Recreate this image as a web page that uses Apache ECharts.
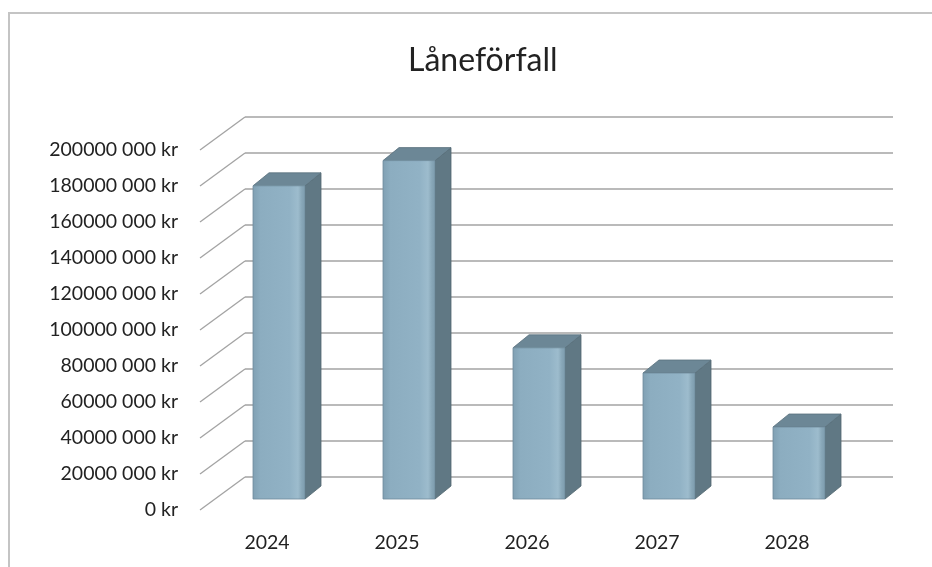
<!DOCTYPE html>
<html>
<head>
<meta charset="utf-8">
<script src="https://cdn.jsdelivr.net/npm/echarts@6/dist/echarts.min.js"></script>
<style>
html,body{margin:0;padding:0;background:#fff;}
#c{width:932px;height:567px;}
</style>
</head>
<body>
<div id="c"></div>
<script>
const title = 'Låneförfall';
const categories = ['2024', '2025', '2026', '2027', '2028'];
const values = [174000000, 188000000, 84000000, 70000000, 40000000];
const yTicks = [0, 20000000, 40000000, 60000000, 80000000, 100000000, 120000000, 140000000, 160000000, 180000000, 200000000];

// 3D projection offsets (pixels)
const WALL_DX = 45, WALL_DY = -33;   // front plane -> back wall
const BAR_OX = 12, BAR_OY = -11;     // front plane -> bar front face
const BAR_DX = 16, BAR_DY = -13;     // bar depth
const BAR_W = 52;

function fmt(v){ return v === 0 ? '0 kr' : Math.round(v/1000) + ' 000 kr'; }

const chart = echarts.init(document.getElementById('c'), null, {renderer:'canvas'});
const font = 'Lato, "Open Sans", sans-serif';

chart.setOption({
  backgroundColor:'#ffffff',
  animation:false,
  title:{text:title,left:403,top:40,textStyle:{fontFamily:font,fontSize:32,fontWeight:'normal',color:'#222'}},
  graphic:[{type:'rect',shape:{x:9,y:13,width:960,height:620},style:{fill:'none',stroke:'#c4c4c4',lineWidth:2},silent:true,z:-10}],
  grid:[
    {left:245,right:39,top:117,bottom:90},
    {left:202,right:80,top:150,bottom:57}
  ],
  xAxis:[
    {gridIndex:0,type:'category',data:categories,show:false},
    {gridIndex:1,type:'category',data:categories,axisLine:{show:false},axisTick:{show:false},
     axisLabel:{margin:23,fontFamily:font,fontSize:19.5,color:'#222'}}
  ],
  yAxis:[
    {gridIndex:0,type:'value',min:0,max:200000000,interval:20000000,
     axisLabel:{show:false},axisLine:{show:false},axisTick:{show:false},
     splitLine:{show:true,lineStyle:{color:'#a3a3a3',width:1.6}}},
    {gridIndex:1,type:'value',min:0,max:200000000,interval:20000000,
     axisLine:{show:false},axisTick:{show:false},splitLine:{show:false},
     axisLabel:{margin:24,fontFamily:font,fontSize:19.5,color:'#222',formatter:fmt}}
  ],
  series:[
    {
      type:'custom',xAxisIndex:1,yAxisIndex:1,z:1,silent:true,
      data:yTicks.map(v=>[0,v]),
      renderItem:function(params,api){
        const p = api.coord([0,api.value(1)]);
        const x = params.coordSys.x - 2;
        return {type:'line',shape:{x1:x,y1:p[1],x2:x+WALL_DX,y2:p[1]+WALL_DY},
          style:{stroke:'#a3a3a3',lineWidth:1.3}};
      }
    },
    {
      type:'custom',xAxisIndex:1,yAxisIndex:1,z:5,silent:true,
      data:categories.map((c,i)=>[i,values[i]]),
      renderItem:function(params,api){
        const top = api.coord([api.value(0),api.value(1)]);
        const base = api.coord([api.value(0),0]);
        const x0 = top[0]-BAR_W/2+BAR_OX, x1 = x0+BAR_W;
        const yt = top[1]+BAR_OY, yb = base[1]+BAR_OY;
        return {type:'group',children:[
          {type:'polygon',shape:{points:[[x1,yt],[x1+BAR_DX,yt+BAR_DY],[x1+BAR_DX,yb+BAR_DY],[x1,yb]]},
            style:{fill:'#607884',stroke:'#51666f',lineWidth:0.8}},
          {type:'polygon',shape:{points:[[x0,yt],[x0+BAR_DX,yt+BAR_DY],[x1+BAR_DX,yt+BAR_DY],[x1,yt]]},
            style:{fill:'#6c8796',stroke:'#5a717d',lineWidth:0.8}},
          {type:'rect',shape:{x:x0,y:yt,width:BAR_W,height:yb-yt},
            style:{fill:new echarts.graphic.LinearGradient(0,0,1,0,[
              {offset:0,color:'#80a0b3'},{offset:0.15,color:'#8cadc0'},
              {offset:0.7,color:'#91b2c5'},{offset:0.86,color:'#9dbccd'},
              {offset:0.93,color:'#88a7b8'},{offset:1,color:'#7b9aac'}]),
              stroke:'#6f8c9c',lineWidth:0.8}}
        ]};
      }
    }
  ]
});
</script>
</body>
</html>
